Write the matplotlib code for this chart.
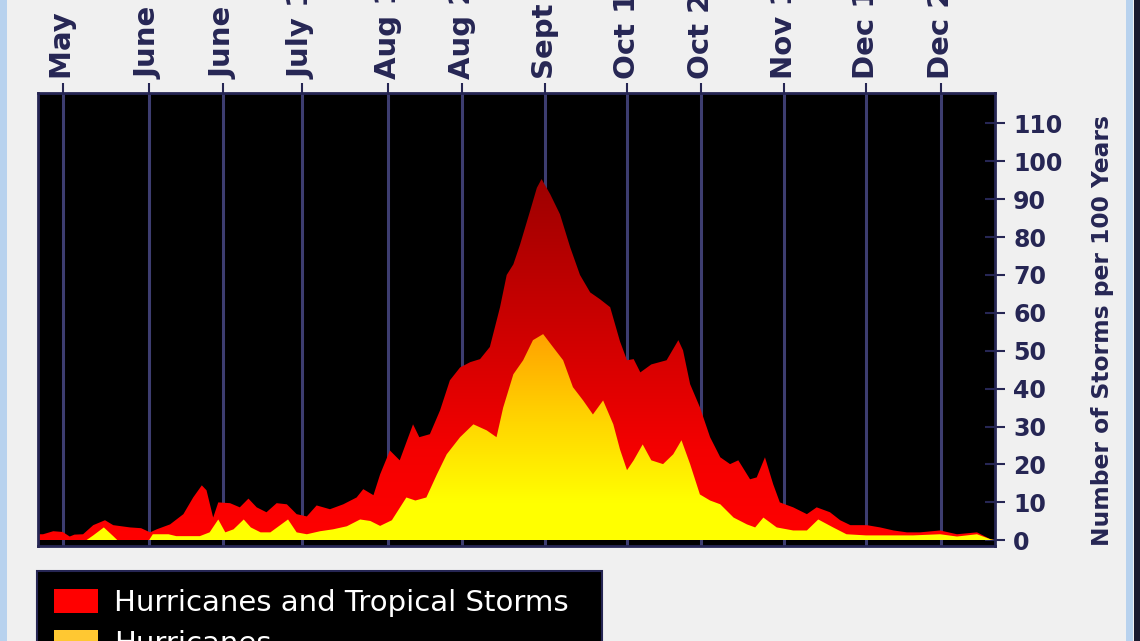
import numpy as np
import matplotlib
matplotlib.use("Agg")
import matplotlib.pyplot as plt
from matplotlib.colors import LinearSegmentedColormap
from matplotlib.patches import Patch, Rectangle

# days counted from May 1
tick_days = [9, 31, 50, 70, 92, 111, 132, 153, 172, 193, 214, 233]
tick_labels = ["May 10", "June 1", "June 20", "July 10", "Aug 1", "Aug 20",
               "Sept 10", "Oct 1", "Oct 20", "Nov 10", "Dec 1", "Dec 20"]

# hurricanes and tropical storms (per 100 years)
days_all = [2.7, 4, 6.6, 9, 10.8, 12, 14.2, 16.8, 19.8, 21.9, 26.2, 29, 31.3, 33,
            36.4, 39.8, 42.3, 44.5, 45.7, 47.4, 48.7, 51.7, 54.2, 56.4, 58.5, 61,
            63.6, 66.2, 68.7, 71.3, 73.8, 77.2, 80.6, 84, 85.7, 88.3, 90, 92.5, 95,
            98.4, 100, 102.7, 105.3, 107.8, 110.4, 113, 115.5, 118, 120.6, 122.3,
            124, 125.7, 128.3, 130, 131.2, 133.4, 135.9, 138.5, 141, 143.6, 146.1,
            148.7, 151.2, 153, 154.7, 156.4, 159.2, 163.1, 166.1, 167.3, 169.1,
            171.6, 174.2, 176.8, 179.3, 181.4, 184.4, 186.1, 188.2, 190.3, 192,
            195.4, 198.9, 201.4, 204.8, 207.4, 210, 214.2, 217.6, 221, 224.4,
            227.8, 232.9, 237.2, 242.3, 245.7, 246.9]
storms_all = [1.6, 1.6, 2.4, 2.2, 1.0, 1.5, 1.6, 4.0, 5.3, 4.0, 3.4, 3.2, 2.1, 2.9,
              4.2, 6.9, 11.3, 14.5, 13.2, 6.0, 10.0, 9.8, 8.7, 11.0, 8.7, 7.4,
              9.8, 9.5, 6.9, 6.3, 9.2, 8.2, 9.5, 11.3, 13.5, 11.9, 17.4, 23.7, 21.1,
              30.6, 27.2, 28.0, 34.3, 42.2, 45.6, 47.0, 47.8, 51.0, 61.5, 70.0,
              72.8, 78.0, 87.0, 93.0, 95.3, 91.3, 86.0, 77.3, 70.0, 65.4, 63.6,
              61.5, 52.5, 47.5, 47.8, 44.3, 46.4, 47.5, 52.8, 50.1, 41.2,
              35.1, 27.2, 21.9, 20.1, 21.1, 16.1, 16.6, 21.9, 14.8, 10.0,
              8.7, 6.9, 8.7, 7.4, 5.3, 4.0, 4.0, 3.4, 2.6, 2.1,
              2.1, 2.6, 1.6, 2.1, 0.3, 0.0]

# hurricanes only
days_hur = [2.7, 15, 16.8, 19.5, 21.9, 23, 31, 32, 36, 38, 44, 46.5, 48.7, 50.5,
            52.6, 55.2, 57, 59.5, 62, 66.5, 68.7, 71.3, 74.7, 78, 81.5, 84.9, 87.5,
            90, 93, 96.7, 99, 101.8, 104.5, 107, 110.4, 113.8, 117.2, 119.7, 121.4,
            124, 126.5, 129, 131.6, 134.1, 136.7, 139.2, 141.8, 144.3, 146.9,
            149.5, 151.2, 153, 154.7, 157, 159.2, 162.2, 164.8, 166.9, 169.1,
            171.6, 174.2, 176.8, 180.2, 183.6, 185.7, 187.8, 191.2, 195.4, 198.9,
            201.8, 205.6, 209, 214, 226, 232.9, 237.2, 242.3, 245.7, 246.9]
hurricanes = [0, 0, 1.3, 3.4, 1.1, 0, 0, 1.6, 1.6, 1.1, 1.1, 2.1, 5.5, 2.1,
              2.9, 5.5, 3.4, 2.1, 2.1, 5.5, 2.1, 1.6, 2.4, 2.9, 3.7, 5.5, 5.1,
              3.8, 5.3, 11.3, 10.5, 11.3, 17.4, 22.7, 27.2, 30.6, 29.0, 27.2, 35.0,
              43.8, 47.5, 52.8, 54.4, 51.0, 47.5, 40.4, 36.9, 33.2, 36.9,
              30.6, 24.0, 18.5, 21.1, 25.3, 21.1, 20.1, 22.7, 26.4, 20.1,
              12.1, 10.5, 9.5, 6.0, 4.2, 3.4, 6.0, 3.4, 2.6, 2.6,
              5.5, 3.4, 1.6, 1.3, 1.3, 1.6, 1.0, 1.6, 0.3, 0.0]

navy = "#262654"
grid_col = "#3d3d70"
xmin, xmax = 2.7, 246.9
ymin, ymax = -1.5, 118

fig = plt.figure(figsize=(11.4, 6.41), dpi=100, facecolor="#f0f0f0")
ax = fig.add_axes([38 / 1140, 1 - 546 / 641, (995 - 38) / 1140, (546 - 93) / 641])
ax.set_facecolor("black")

# window border strips
fig.patches.append(Rectangle((0, 0), 7 / 1140, 1, transform=fig.transFigure,
                             facecolor="#b8d2ee", edgecolor="none"))
fig.patches.append(Rectangle((1126 / 1140, 0), 7 / 1140, 1, transform=fig.transFigure,
                             facecolor="#b8d2ee", edgecolor="none"))
fig.patches.append(Rectangle((1134 / 1140, 0), 6 / 1140, 1, transform=fig.transFigure,
                             facecolor="#1a1a2e", edgecolor="none"))

# gradient filled areas
red_cmap = LinearSegmentedColormap.from_list(
    "reds", [(0, "#ff0000"), (0.25, "#f40000"), (1, "#9c0000")])
yel_cmap = LinearSegmentedColormap.from_list(
    "yels", [(0, "#ffff00"), (0.18, "#ffff00"), (0.6, "#ffd200"), (1, "#ffa000")])
grad = np.linspace(0, 1, 256).reshape(-1, 1)

poly_all = ax.fill_between(days_all, storms_all, 0, facecolor="none", edgecolor="none")
im1 = ax.imshow(grad, cmap=red_cmap, extent=(xmin, xmax, 0, 96), origin="lower",
                aspect="auto", zorder=2)
im1.set_clip_path(poly_all.get_paths()[0], transform=ax.transData)

poly_hur = ax.fill_between(days_hur, hurricanes, 0, facecolor="none", edgecolor="none")
im2 = ax.imshow(grad, cmap=yel_cmap, extent=(xmin, xmax, 0, 55), origin="lower",
                aspect="auto", zorder=3)
im2.set_clip_path(poly_hur.get_paths()[0], transform=ax.transData)

ax.set_xlim(xmin, xmax)
ax.set_ylim(ymin, ymax)

# top date axis (labels run off the top edge, as in the source image)
ax.xaxis.tick_top()
ax.set_xticks(tick_days)
ax.set_xticklabels(tick_labels, rotation=90, fontsize=21, fontweight="bold",
                   color=navy, va="bottom", ha="center")
ax.tick_params(axis="x", direction="out", length=7, width=1.5, color=navy, pad=3)
ax.set_axisbelow(True)
ax.grid(axis="x", color=grid_col, linewidth=2.2)

# right count axis
ax.yaxis.tick_right()
ax.yaxis.set_label_position("right")
ax.set_yticks(range(0, 111, 10))
ax.tick_params(axis="y", direction="inout", length=14, width=1.5, color=navy, pad=6,
               labelsize=17, labelcolor=navy)
for lab in ax.get_yticklabels():
    lab.set_fontweight("bold")
ax.set_ylabel("Number of Storms per 100 Years", fontsize=16.8, fontweight="bold",
              color=navy)
ax.yaxis.set_label_coords(1.100, 0.475)

for sp in ax.spines.values():
    sp.set_color(navy)
    sp.set_linewidth(2)

# legend box (cut at the bottom edge)
handles = [Patch(facecolor="#ff0000", edgecolor="none"),
           Patch(facecolor="#ffc832", edgecolor="none")]
leg = fig.legend(handles, ["Hurricanes and Tropical Storms", "Hurricanes"],
                 loc="upper left", bbox_to_anchor=(37 / 1140, 0, 565 / 1140, 1 - 571 / 641),
                 mode="expand", borderaxespad=0, fontsize=21, facecolor="black",
                 edgecolor=navy, framealpha=1, fancybox=False, handlelength=1.5,
                 handleheight=0.9, handletextpad=0.55, borderpad=0.6, labelspacing=0.45)
leg.get_frame().set_linewidth(1.5)
for t in leg.get_texts():
    t.set_color("white")

fig.savefig("out.png", dpi=100, facecolor=fig.get_facecolor())
